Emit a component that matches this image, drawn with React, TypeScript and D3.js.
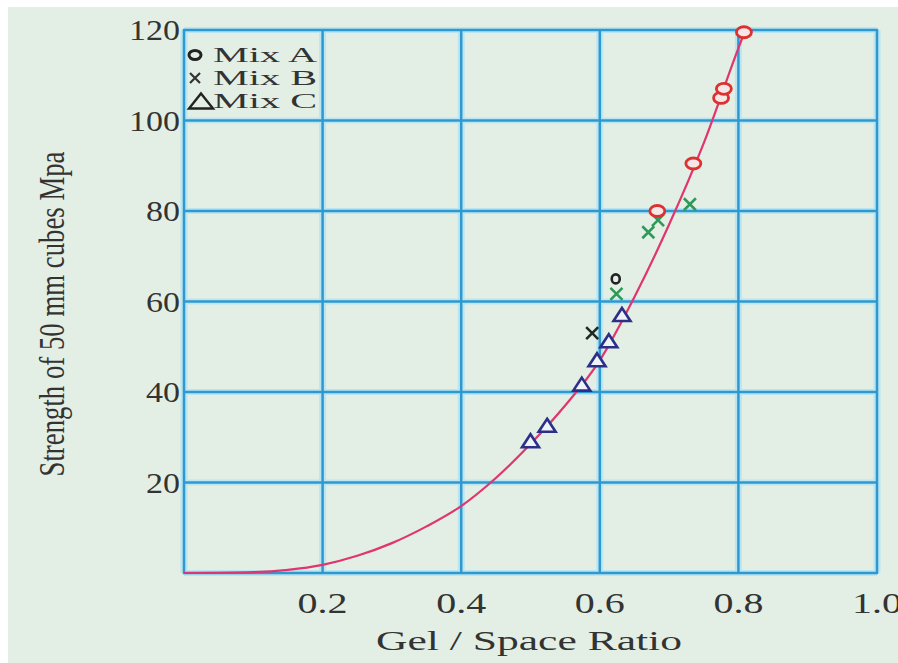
import React from 'react'
import * as d3 from 'd3'

// x ticks and y ticks as printed on the chart
const xTicks = [0.2, 0.4, 0.6, 0.8, 1.0]
const yTicks = [20, 40, 60, 80, 100, 120]

// fitted curve
const curveX = [0, 0.1, 0.15, 0.2, 0.25, 0.3, 0.35, 0.4, 0.45, 0.5, 0.55, 0.6, 0.65, 0.7, 0.75, 0.8, 0.81]
const curveY = [0, 0.2, 0.7, 1.8, 3.8, 6.6, 10.3, 14.8, 21, 28.5, 37, 47, 61, 77, 95, 116, 120]

// Mix A (circles)
const mixAx = [0.683, 0.735, 0.775, 0.779, 0.808, 0.623]
const mixAy = [80, 90.5, 105, 107, 119.5, 65]
const mixAdark = [false, false, false, false, false, true]

// Mix B (crosses)
const mixBx = [0.73, 0.684, 0.67, 0.624, 0.589]
const mixBy = [81.5, 78, 75.3, 61.7, 53]
const mixBdark = [false, false, false, false, true]

// Mix C (triangles)
const mixCx = [0.5, 0.524, 0.574, 0.596, 0.613, 0.632]
const mixCy = [28.8, 32.2, 41.3, 46.7, 50.9, 56.7]

const legendLabels = ['Mix A', 'Mix B', 'Mix C']

const W = 898, H = 663
const grid = '#2f98cf'
const halo = '#b9e6f2'
const txt = '#333333'
const serif = '"Liberation Serif", "DejaVu Serif", serif'

const tri = (cx: number, cy: number, w: number, h: number) =>
  `M${cx},${cy - h / 2}L${cx + w / 2},${cy + h / 2}L${cx - w / 2},${cy + h / 2}Z`

const cross = (cx: number, cy: number, s: number) =>
  `M${cx - s},${cy - s}L${cx + s},${cy + s}M${cx - s},${cy + s}L${cx + s},${cy - s}`

export default function App() {
  const x = d3.scaleLinear().domain([0, 1]).range([184, 877])
  const y = d3.scaleLinear().domain([0, 120]).range([573, 30])

  const line = d3.line<number>()
    .x((d, i) => x(curveX[i]))
    .y((d, i) => y(curveY[i]))
    .curve(d3.curveMonotoneX)

  const vLines = [0, ...xTicks]
  const hLines = [0, ...yTicks]

  return (
    <svg width={W} height={H} style={{ position: 'absolute', left: 0, top: 0 }}>
      <rect x={0} y={0} width={W} height={H} fill="#ffffff" />
      <rect x={8} y={7} width={W - 8} height={H - 7} fill="#e3efe5" />

      {/* grid halo */}
      {vLines.map(v => (
        <line key={'vh' + v} x1={x(v)} x2={x(v)} y1={y(120)} y2={y(0)} stroke={halo} strokeWidth={7} />
      ))}
      {hLines.map(v => (
        <line key={'hh' + v} x1={x(0)} x2={x(1)} y1={y(v)} y2={y(v)} stroke={halo} strokeWidth={6} />
      ))}
      {vLines.map(v => (
        <line key={'v' + v} x1={x(v)} x2={x(v)} y1={y(120) - 1} y2={y(0) + 1} stroke={grid} strokeWidth={2.5} />
      ))}
      {hLines.map(v => (
        <line key={'h' + v} x1={x(0) - 1} x2={x(1) + 1} y1={y(v)} y2={y(v)} stroke={grid} strokeWidth={2.5} />
      ))}

      {/* y tick labels */}
      {yTicks.map(v => (
        <text key={'yt' + v} x={180} y={y(v) + 10} textAnchor="end" fontFamily={serif} fontSize={29}
          fill={txt} textLength={String(v).length * 17} lengthAdjust="spacingAndGlyphs">{v}</text>
      ))}
      {/* x tick labels */}
      {xTicks.map(v => (
        <text key={'xt' + v} x={x(v)} y={613} textAnchor="middle" fontFamily={serif} fontSize={29}
          fill={txt} textLength={50} lengthAdjust="spacingAndGlyphs">{v.toFixed(1)}</text>
      ))}

      <text x={529} y={650} textAnchor="middle" fontFamily={serif} fontSize={28} fill={txt}
        textLength={306} lengthAdjust="spacingAndGlyphs">Gel / Space Ratio</text>
      <text transform="translate(64,314) rotate(-90)" textAnchor="middle" fontFamily={serif} fontSize={35}
        fill={txt} textLength={325} lengthAdjust="spacingAndGlyphs">Strength of 50 mm cubes Mpa</text>

      {/* fitted curve */}
      <path d={line(curveY) || ''} fill="none" stroke="#e0356e" strokeWidth={2.2} />

      {/* Mix C */}
      {mixCx.map((v, i) => (
        <path key={'c' + i} d={tri(x(v), y(mixCy[i]) - 2, 17, 13)} fill="#eef3f7" stroke="#2c2f88" strokeWidth={2.6} />
      ))}
      {/* Mix B */}
      {mixBx.map((v, i) => (
        <path key={'b' + i} d={cross(x(v), y(mixBy[i]), 6)} fill="none"
          stroke={mixBdark[i] ? '#1f2a22' : '#2e9a58'} strokeWidth={2.6} />
      ))}
      {/* Mix A */}
      {mixAx.map((v, i) => mixAdark[i] ? (
        <ellipse key={'a' + i} cx={x(v)} cy={y(mixAy[i])} rx={4} ry={4.5} fill="none" stroke="#222" strokeWidth={2.6} />
      ) : (
        <ellipse key={'a' + i} cx={x(v)} cy={y(mixAy[i])} rx={7.5} ry={5.5} fill="#f7e6e6" stroke="#dd3030" strokeWidth={2.8} />
      ))}

      {/* legend */}
      <ellipse cx={195} cy={55} rx={6} ry={4.5} fill="none" stroke="#222" strokeWidth={3} />
      <path d={cross(195, 78, 5)} fill="none" stroke="#333" strokeWidth={2.2} />
      <path d={tri(201, 101, 24, 15)} fill="none" stroke="#222" strokeWidth={2.4} />
      {legendLabels.map((l, i) => (
        <text key={l} x={213} y={62 + i * 23} fontFamily={serif} fontSize={22} fill={txt}
          textLength={104} lengthAdjust="spacingAndGlyphs">{l}</text>
      ))}
    </svg>
  )
}
